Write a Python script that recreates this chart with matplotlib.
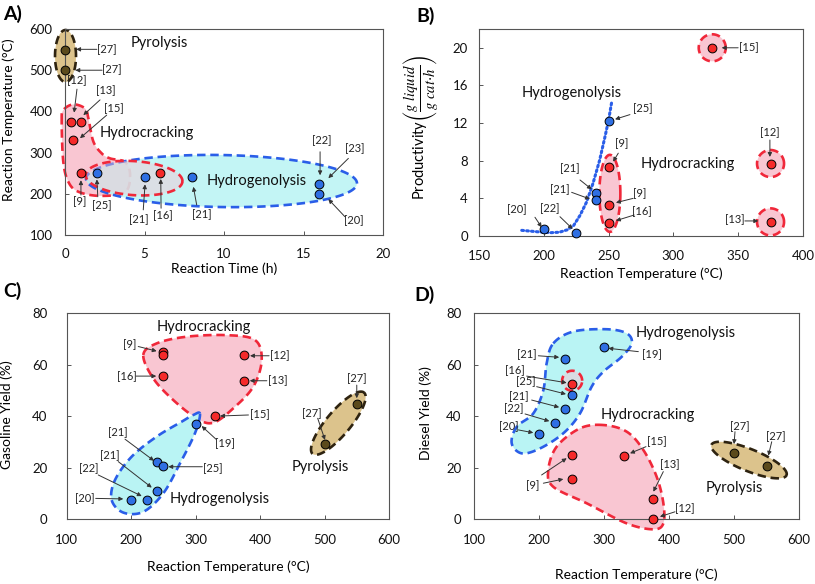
import numpy as np
import matplotlib
matplotlib.use('Agg')
import matplotlib.pyplot as plt
from matplotlib.patches import Polygon
from matplotlib.colors import to_rgba

plt.rcParams['font.family'] = ['Lato', 'DejaVu Sans']
plt.rcParams['mathtext.fontset'] = 'stix'

# ---------------- data ----------------
# Panel A: reaction time (h) vs reaction temperature (C)
A_pyro_time = [0, 0]
A_pyro_temp = [550, 500]
A_hc_time = [0.4, 1.0, 0.5, 1.0, 6.0]
A_hc_temp = [375, 375, 330, 250, 250]
A_hg_time = [2, 5, 8, 16, 16]
A_hg_temp = [250, 240, 240, 225, 200]

# Panel B: temperature vs productivity
B_hg_T = [200, 225, 240, 240, 250]
B_hg_P = [0.7, 0.3, 4.6, 3.8, 12.2]
B_hc_T = [250, 250, 250, 330, 375, 375]
B_hc_P = [7.3, 3.3, 1.4, 20, 7.7, 1.5]
B_trend_T = [183, 195, 205, 212, 218, 223, 228, 233, 238, 243, 247, 250, 252.5]
B_trend_P = [0.6, 0.45, 0.35, 0.4, 0.65, 1.1, 2.2, 3.6, 5.6, 8.0, 10.4, 12.3, 14.3]

# Panel C: temperature vs gasoline yield
C_hc_T = [250, 250, 250, 375, 375, 330]
C_hc_G = [65, 63.7, 55.5, 63.7, 53.7, 40]
C_hg_T = [300, 240, 250, 240, 200, 225]
C_hg_G = [37, 22, 20.5, 11, 7.5, 7.2]
C_py_T = [500, 550]
C_py_G = [29, 44.5]

# Panel D: temperature vs diesel yield
D_hg_T = [300, 240, 250, 240, 225, 200]
D_hg_D = [66.7, 62, 48, 42.8, 37.2, 32.9]
D_hc_T = [250, 250, 250, 330, 375, 375]
D_hc_D = [52.3, 25, 15.5, 24.5, 7.6, 0]
D_py_T = [500, 550]
D_py_D = [25.6, 20.5]

# ---------------- styles ----------------
RED = '#f52a2a'
BLUE = '#2f6fe3'
BROWN = '#5b4a1c'
PINK = '#f9c6d2'
CYAN = '#b9f4f4'
TAN = '#dcc38c'
RED_E = '#f0283a'
BLUE_E = '#2a5ee8'
BROWN_E = '#2e2310'
DASH = (0, (3.2, 1.8))

fig = plt.figure(figsize=(8.15, 5.84), dpi=100)
axA = fig.add_axes([0.0798, 0.5976, 0.3902, 0.3527])
axB = fig.add_axes([0.5877, 0.5959, 0.3975, 0.3545])
axC = fig.add_axes([0.0818, 0.1113, 0.3955, 0.3527])
axD = fig.add_axes([0.5816, 0.1113, 0.3988, 0.3527])

axA.set_xlim(0, 20); axA.set_ylim(100, 600)
axB.set_xlim(150, 400); axB.set_ylim(0, 22)
axC.set_xlim(100, 600); axC.set_ylim(0, 80)
axD.set_xlim(100, 600); axD.set_ylim(0, 80)


def catmull(P, n=24):
    P = np.asarray(P, float)
    m = len(P)
    out = []
    t = np.linspace(0, 1, n, endpoint=False)[:, None]
    for i in range(m):
        p0, p1, p2, p3 = P[i - 1], P[i], P[(i + 1) % m], P[(i + 2) % m]
        out.append(0.5 * ((2 * p1) + (-p0 + p2) * t + (2 * p0 - 5 * p1 + 4 * p2 - p3) * t ** 2
                          + (-p0 + 3 * p1 - 3 * p2 + p3) * t ** 3))
    return np.vstack(out)


def blob(ax, pts, fc, ec, z, a=1.0):
    disp = ax.transData.transform(np.asarray(pts, float))
    curve = ax.transData.inverted().transform(catmull(disp))
    ax.add_patch(Polygon(curve, closed=True, fc=to_rgba(fc, a), ec=ec, lw=1.9,
                         ls=DASH, zorder=z, clip_on=False))


def ell(ax, c, w, h, ang, fc, ec, z, a=1.0):
    cd = ax.transData.transform([c])[0]
    t = np.linspace(0, 2 * np.pi, 200)
    x = w / 2 * np.cos(t); y = h / 2 * np.sin(t)
    r = np.deg2rad(ang)
    pts = np.c_[cd[0] + x * np.cos(r) - y * np.sin(r), cd[1] + x * np.sin(r) + y * np.cos(r)]
    curve = ax.transData.inverted().transform(pts)
    ax.add_patch(Polygon(curve, closed=True, fc=to_rgba(fc, a), ec=ec, lw=1.9,
                         ls=DASH, zorder=z, clip_on=False))


def pts(ax, x, y, c):
    ax.scatter(x, y, s=40, c=c, edgecolors='black', linewidths=0.7, zorder=10, clip_on=False)


def labels(ax, labs, arrows):
    for s, x, y in labs:
        ax.text(x, y, s, ha='center', va='center', fontsize=8, color='#222222', zorder=12)
    for tail, tip in arrows:
        ax.annotate('', xy=tip, xytext=tail,
                    arrowprops=dict(arrowstyle='-|>', color='#333333', lw=0.7,
                                    mutation_scale=6, shrinkA=0, shrinkB=0), zorder=11)


def region(ax, s, x, y):
    ax.text(x, y, s, ha='center', va='center', fontsize=10.5, color='#111111', zorder=12)


# ---------------- Panel A ----------------
blob(axA, [(-0.21, 375), (-0.11, 403), (0.52, 417), (1.26, 407), (1.47, 383), (1.78, 327),
           (2.31, 298), (2.83, 286), (3.77, 277), (4.09, 246), (3.77, 204), (2.2, 195),
           (0.84, 205), (0.21, 229), (-0.11, 278)], PINK, RED_E, 2)
ell(axA, (9.84, 231), 271, 52, -1, CYAN, BLUE_E, 3, 0.85)
ell(axA, (4.34, 238), 97, 34, -4, PINK, RED_E, 4, 0.45)
ell(axA, (0.03, 534.5), 21, 52, 0, TAN, BROWN_E, 2)
pts(axA, A_pyro_time, A_pyro_temp, BROWN)
pts(axA, A_hc_time, A_hc_temp, RED)
pts(axA, A_hg_time, A_hg_temp, BLUE)
labels(axA,
       [('[27]', 2.64, 551), ('[27]', 2.94, 502), ('[12]', 0.75, 476), ('[13]', 2.58, 450),
        ('[15]', 3.08, 407.5), ('[9]', 0.94, 181), ('[25]', 2.31, 171), ('[21]', 4.61, 136.5),
        ('[16]', 6.18, 146), ('[21]', 8.6, 150), ('[22]', 16.14, 328), ('[23]', 18.2, 310.5),
        ('[20]', 18.13, 134)],
       [((2.0, 550.7), (0.7, 550.7)), ((2.33, 500), (0.65, 500)), ((0.75, 454), (0.57, 397)),
        ((2.2, 428), (1.15, 391)), ((2.62, 391), (0.94, 335)), ((1.0, 197), (1.0, 233)),
        ((2.06, 193), (2.0, 235)), ((4.92, 161), (5.03, 223)), ((6.04, 165), (6.02, 236)),
        ((8.28, 173), (8.07, 217)), ((16.04, 302), (16.04, 245)), ((17.82, 286), (16.56, 238)),
        ((17.6, 144.5), (16.56, 187))])
region(axA, 'Pyrolysis', 5.9, 566)
region(axA, 'Hydrocracking', 5.17, 347)
region(axA, 'Hydrogenolysis', 12.05, 231)
axA.set_xticks([0, 5, 10, 15, 20]); axA.set_yticks([100, 200, 300, 400, 500, 600])
axA.set_xlabel('Reaction Time (h)', fontsize=10)
axA.set_ylabel('Reaction Temperature (°C)', fontsize=10)
axA.xaxis.set_label_coords(0.5, -0.135)
axA.yaxis.set_label_coords(-0.157, 0.56)
axA.tick_params(axis='x', pad=9)
axA.tick_params(axis='y', pad=9)

# ---------------- Panel B ----------------
ell(axB, (251, 4.53), 21, 77, 0, PINK, RED_E, 3)
for cx, cy in [(330, 20), (375, 7.7), (375, 1.5)]:
    ell(axB, (cx, cy), 27, 27, 0, PINK, RED_E, 3)
axB.plot(B_trend_T, B_trend_P, color=BLUE_E, lw=2.2, ls=(0, (0.6, 1.0)),
         dash_capstyle='round', zorder=5, clip_on=False)
pts(axB, B_hg_T, B_hg_P, BLUE)
pts(axB, B_hc_T, B_hc_P, RED)
labels(axB,
       [('[15]', 358, 20), ('[25]', 276.5, 13.5), ('[9]', 260, 9.8), ('[12]', 374.5, 11.0),
        ('[21]', 220.2, 7.2), ('[21]', 212.5, 4.96), ('[9]', 274.2, 4.54), ('[16]', 275.5, 2.58),
        ('[20]', 179, 2.84), ('[22]', 204.3, 2.94), ('[13]', 347.5, 1.7)],
       [((350, 20), (337.3, 20)), ((266.5, 12.9), (255, 12.4)), ((257.5, 8.8), (253.5, 7.9)),
        ((374.5, 10.2), (374.5, 8.4)), ((228, 5.95), (237, 4.96)), ((221.5, 4.64), (235.6, 3.93)),
        ((269, 4.0), (255.7, 3.54)), ((269.8, 2.23), (255.7, 1.63)), ((193.2, 1.99), (198.4, 0.92)),
        ((212.5, 2.05), (222.3, 0.74)), ((355.2, 1.6), (365.5, 1.6))])
region(axB, 'Hydrogenolysis', 221.5, 15.2)
region(axB, 'Hydrocracking', 311.5, 7.6)
axB.set_xticks([150, 200, 250, 300, 350, 400]); axB.set_yticks([0, 4, 8, 12, 16, 20])
axB.set_xlabel('Reaction Temperature (°C)', fontsize=10)
axB.set_ylabel(r'Productivity$\left(\dfrac{g\ liquid}{g\ cat{\cdot}h}\right)$', fontsize=10.5)
axB.xaxis.set_label_coords(0.5, -0.15)
axB.yaxis.set_label_coords(-0.12, 0.525)
axB.tick_params(axis='x', pad=10)
axB.tick_params(axis='y', pad=8)

# ---------------- Panel C ----------------
blob(axC, [(218.9, 63.7), (239.6, 68.2), (286.2, 70.8), (348.2, 71.4), (392.1, 69.5),
           (402.5, 61.7), (389.5, 51.4), (358.5, 43), (327.4, 37.4), (301.7, 39.1),
           (265.4, 46.2), (234.4, 54.6)], PINK, RED_E, 2)
blob(axC, [(306.8, 40.8), (299, 33.3), (275.8, 21.6), (249.9, 10), (218.9, 2.8), (187.8, 2.5),
           (169.8, 7.4), (174.9, 15.1), (200.8, 24.2), (239.6, 32), (278.4, 37.8),
           (296.4, 40.4)], CYAN, BLUE_E, 3)
ell(axC, (521.4, 37.2), 80, 24, 50, TAN, BROWN_E, 2)
pts(axC, C_hc_T, C_hc_G, RED)
pts(axC, C_hg_T, C_hg_G, BLUE)
pts(axC, C_py_T, C_py_G, BROWN)
labels(axC,
       [('[9]', 197, 67.8), ('[16]', 193, 55.5), ('[12]', 431, 63.4), ('[13]', 428, 53.7),
        ('[15]', 400, 40.4), ('[19]', 345.6, 29.1), ('[21]', 180, 33.5), ('[25]', 326, 19.7),
        ('[21]', 167, 24.6), ('[22]', 135, 19.4), ('[20]', 128.4, 8.0), ('[27]', 480, 40.8),
        ('[27]', 550, 54.6)],
       [((211, 67), (239.6, 65.2)), ((207.6, 55.5), (239, 55.5)), ((414, 63.4), (384.4, 63.4)),
        ((410.5, 53.7), (384, 53.7)), ((382, 40.4), (338, 40)), ((331.6, 31), (309.4, 36.1)),
        ((190.5, 31), (235.5, 22.6)), ((310.4, 20.3), (257.7, 20.3)), ((180, 22.3), (232, 12.2)),
        ((149, 17.1), (216.4, 8.9)), ((145, 8.0), (187.8, 7.8)), ((489.4, 39.1), (500.7, 30.7)),
        ((550, 52), (550, 46.9))])
region(axC, 'Hydrocracking', 312, 74.7)
region(axC, 'Pyrolysis', 493, 20.3)
region(axC, 'Hydrogenolysis', 338, 7.6)
axC.set_xticks([100, 200, 300, 400, 500, 600]); axC.set_yticks([0, 20, 40, 60, 80])
axC.set_xlabel('Reaction Temperature (°C)', fontsize=10)
axC.set_ylabel('Gasoline Yield (%)', fontsize=10)
axC.xaxis.set_label_coords(0.5, -0.2)
axC.yaxis.set_label_coords(-0.167, 0.505)
axC.tick_params(axis='x', pad=11)
axC.tick_params(axis='y', pad=14)

# ---------------- Panel D ----------------
blob(axD, [(222, 68.2), (252.8, 72.8), (304.1, 73.7), (334.9, 72.1), (342.6, 68.2),
           (327.2, 63), (299, 57.2), (281, 51.4), (263, 41), (237.4, 33.3), (201.5, 27.4),
           (173.4, 25.5), (158, 29.4), (165.7, 35.8), (191.2, 41), (206.6, 50),
           (211.8, 60.5)], CYAN, BLUE_E, 2)
blob(axD, [(299, 36.5), (263, 35.2), (227.2, 28.1), (214.3, 19), (222, 12.5), (273.4, 6.1),
           (334.9, -1.7), (375.9, -4), (391.3, -1.7), (391.3, 6.1), (381, 16.4),
           (360.5, 26.8), (335, 33.9)], PINK, RED_E, 2)
ell(axD, (251, 53.7), 20, 20, 0, PINK, RED_E, 3, 0.5)
ell(axD, (523, 22.9), 81, 22, -22, TAN, BROWN_E, 2)
pts(axD, D_hg_T, D_hg_D, BLUE)
pts(axD, D_hc_T, D_hc_D, RED)
pts(axD, D_py_T, D_py_D, BROWN)
labels(axD,
       [('[19]', 374, 64), ('[21]', 181, 63.7), ('[16]', 163, 57.6), ('[25]', 180, 53.3),
        ('[21]', 169.7, 47.5), ('[22]', 161.5, 43), ('[20]', 152.8, 35.9), ('[15]', 381, 30),
        ('[13]', 401.5, 21), ('[12]', 424.6, 4.1), ('[9]', 190.3, 12.8), ('[27]', 509, 35.9),
        ('[27]', 564, 32)],
       [((352.8, 65), (306.7, 66.3)), ((199, 63.4), (231, 62.8)), ((181, 55.5), (242.6, 52.9)),
        ((196.4, 51.4), (241.5, 48.5)), ((188.7, 46.2), (231, 43.4)), ((178.5, 40.8), (215.9, 38)),
        ((168.2, 34.6), (191.2, 33.5)), ((364.6, 28.1), (340, 25.5)), ((391.2, 18.4), (375.9, 10.6)),
        ((409.2, 2.8), (386, 0.9)), ((204, 17.1), (242.6, 23.6)), ((206.7, 13.9), (237.4, 15.5)),
        ((501.5, 33.9), (500, 29.1)), ((558, 30), (552.8, 24.6))])
region(axD, 'Hydrogenolysis', 426, 72.1)
region(axD, 'Hydrocracking', 366.7, 40.4)
region(axD, 'Pyrolysis', 500.5, 11.9)
axD.set_xticks([100, 200, 300, 400, 500, 600]); axD.set_yticks([0, 20, 40, 60, 80])
axD.set_xlabel('Reaction Temperature (°C)', fontsize=10)
axD.set_ylabel('Diesel Yield (%)', fontsize=10)
axD.xaxis.set_label_coords(0.5, -0.238)
axD.yaxis.set_label_coords(-0.129, 0.512)
axD.tick_params(axis='x', pad=11)
axD.tick_params(axis='y', pad=9)

for ax in (axA, axB, axC, axD):
    for sp in ax.spines.values():
        sp.set_color('#555555'); sp.set_linewidth(0.8)
    ax.tick_params(direction='in', length=3, width=0.7, color='#555555', labelsize=9.5,
                   labelcolor='#111111')

for s, x, y in [('A)', 3, 5), ('B)', 416, 7), ('C)', 3, 282), ('D)', 414, 286)]:
    fig.text(x / 815, 1 - y / 584, s, fontsize=14, fontweight='bold', va='top', ha='left')

fig.savefig('out.png', dpi=100, facecolor='white')
